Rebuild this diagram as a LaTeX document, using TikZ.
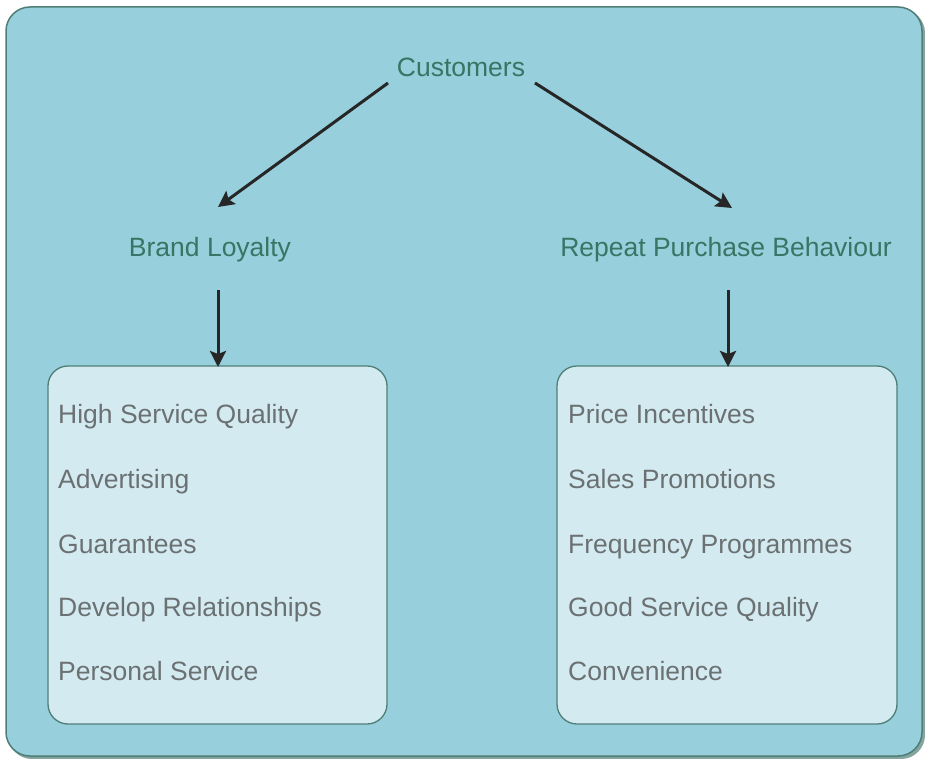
\documentclass[tikz,border=0pt]{standalone}
\usepackage{fontspec}
\setmainfont{Liberation Sans}
\usetikzlibrary{arrows.meta}
\definecolor{outerfill}{HTML}{97CFDC}
\definecolor{outerline}{HTML}{4F7E76}
\definecolor{innerfill}{HTML}{D3EBF0}
\definecolor{headtext}{HTML}{3A7464}
\definecolor{itemtext}{HTML}{6B7073}
\tikzset{
  heading/.style={text=headtext, font=\fontsize{26.5}{30}\selectfont, inner sep=0pt, anchor=base},
  item/.style={text=itemtext, font=\fontsize{26.5}{30}\selectfont, inner sep=0pt, anchor=base west},
  listbox/.style={draw=outerline, line width=1.3pt, fill=innerfill, rounded corners=20pt},
  conn/.style={draw=black!85, line width=3pt, -{Stealth[length=16pt,width=16pt,inset=3pt]}}
}
\begin{document}
\begin{tikzpicture}[x=1pt,y=-1pt]
\useasboundingbox (0,0) rectangle (925,759);
\fill[outerline!70] (8,9) [rounded corners=24pt] rectangle (925,759);
\draw[draw=outerline, line width=1.5pt, fill=outerfill, rounded corners=24pt] (6,7) rectangle (922,756);
\draw[listbox] (48,366) rectangle (387,724);
\draw[listbox] (557,366) rectangle (897,724);
\node[heading] (cust) at (461,76.5) {Customers};
\node[heading] (brand) at (210,256.5) {Brand Loyalty};
\node[heading] (repeat) at (726,256.5) {Repeat Purchase Behaviour};
\coordinate (c1) at (388,83);
\coordinate (c2) at (535,83);
\coordinate (b1) at (218,207);
\coordinate (r1) at (732,208);
\coordinate (b2) at (218,290);
\coordinate (b3) at (218,367);
\coordinate (r2) at (728,290);
\coordinate (r3) at (728,367);
\draw[conn] (c1) -- (b1);
\draw[conn] (c2) -- (r1);
\draw[conn] (b2) -- (b3);
\draw[conn] (r2) -- (r3);
\node[item] (l1) at (58,423.5) {High Service Quality};
\node[item] (l2) at (58,488.5) {Advertising};
\node[item] (l3) at (58,553.5) {Guarantees};
\node[item] (l4) at (58,616.5) {Develop Relationships};
\node[item] (l5) at (58,680.5) {Personal Service};
\node[item] (p1) at (568,423.5) {Price Incentives};
\node[item] (p2) at (568,488.5) {Sales Promotions};
\node[item] (p3) at (568,553.5) {Frequency Programmes};
\node[item] (p4) at (568,616.5) {Good Service Quality};
\node[item] (p5) at (568,680.5) {Convenience};
\end{tikzpicture}
\end{document}
